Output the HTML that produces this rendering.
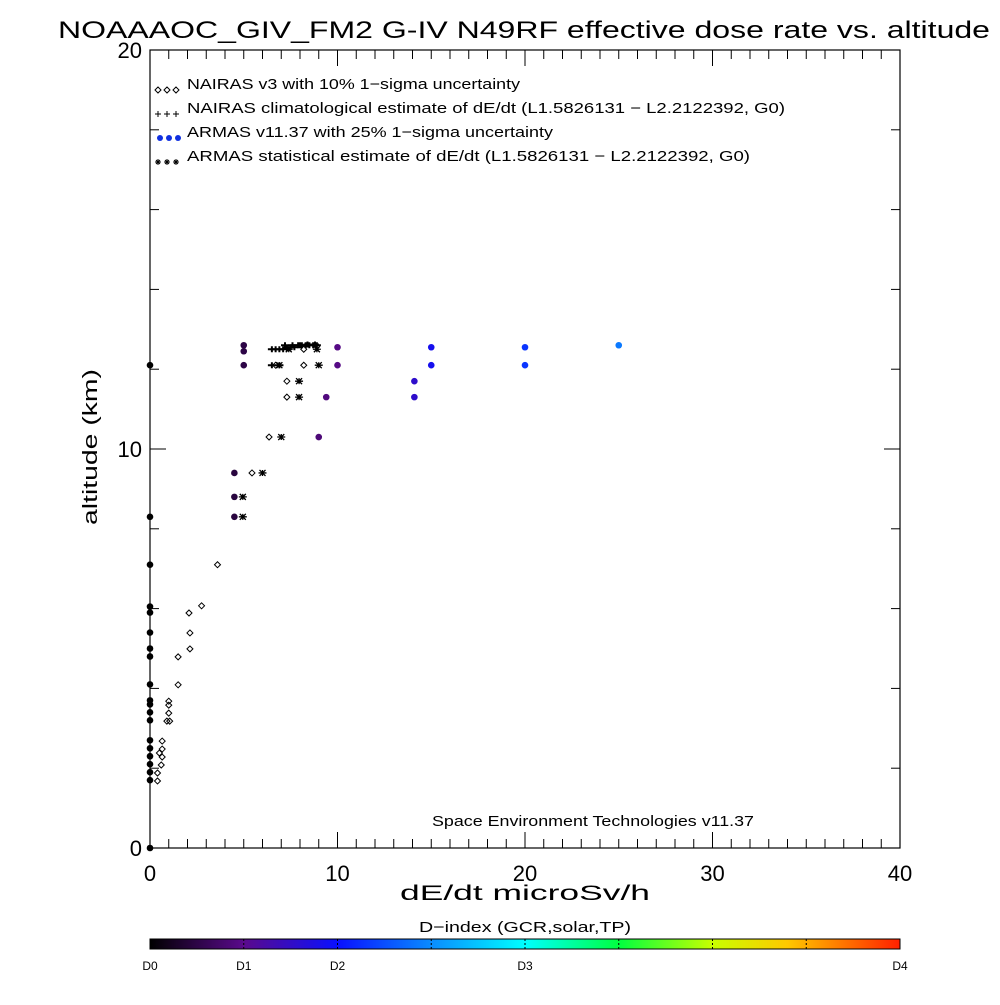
<!DOCTYPE html>
<html><head><meta charset="utf-8"><style>
body{margin:0;background:#fff}
svg text{font-family:"Liberation Sans",sans-serif;fill:#000}
</style></head><body>
<svg id="c" width="1000" height="1000" xmlns="http://www.w3.org/2000/svg">
<defs><linearGradient id="cb" x1="0" x2="1" y1="0" y2="0">
<stop offset="0" stop-color="#000"/><stop offset="0.125" stop-color="#5a0a8c"/><stop offset="0.25" stop-color="#0a10ff"/><stop offset="0.375" stop-color="#0a8cff"/><stop offset="0.5" stop-color="#00ffff"/><stop offset="0.625" stop-color="#00ff40"/><stop offset="0.75" stop-color="#c8ff00"/><stop offset="0.85" stop-color="#ffc800"/><stop offset="1" stop-color="#ff2000"/></linearGradient></defs>
<text x="58" y="38" font-size="24" textLength="932" lengthAdjust="spacingAndGlyphs">NOAAAOC_GIV_FM2 G-IV   N49RF  effective dose rate vs. altitude</text>
<rect x="150" y="50" width="750" height="798" fill="none" stroke="#000" stroke-width="1.2"/>
<g id="ticks"></g>
<g id="ticklabels"></g>
<text x="97" y="447" font-size="20" text-anchor="middle" textLength="156" lengthAdjust="spacingAndGlyphs" transform="rotate(-90 97 447)">altitude (km)</text>
<text x="400" y="900" font-size="21" textLength="250" lengthAdjust="spacingAndGlyphs">dE/dt microSv/h</text>
<text x="432" y="826" font-size="15" textLength="322" lengthAdjust="spacingAndGlyphs">Space Environment Technologies v11.37</text>
<g font-size="15">
<g><path d="M155,90l3,-3l3,3l-3,3zM164,90l3,-3l3,3l-3,3zM173,90l3,-3l3,3l-3,3z" fill="none" stroke="#000"/><text x="187" y="89" textLength="333" lengthAdjust="spacingAndGlyphs">NAIRAS v3 with 10% 1−sigma uncertainty</text></g>
<g><path d="M155,114h6M158,111v6M164,114h6M167,111v6M173,114h6M176,111v6" stroke="#000"/><text x="187" y="113" textLength="598" lengthAdjust="spacingAndGlyphs">NAIRAS climatological estimate of dE/dt (L1.5826131 − L2.2122392, G0)</text></g>
<g><circle cx="160" cy="138" r="3" fill="#1030e0"/><circle cx="169" cy="138" r="3" fill="#1030e0"/><circle cx="178" cy="138" r="3" fill="#1030e0"/><text x="187" y="137" textLength="366" lengthAdjust="spacingAndGlyphs">ARMAS v11.37 with 25% 1−sigma uncertainty</text></g>
<g><path d="M155,162h6M158,159v6M156,160l4,4M160,160l-4,4M164,162h6M167,159v6M165,160l4,4M169,160l-4,4M173,162h6M176,159v6M174,160l4,4M178,160l-4,4" stroke="#000"/><text x="187" y="161" textLength="563" lengthAdjust="spacingAndGlyphs">ARMAS statistical estimate of dE/dt (L1.5826131 − L2.2122392, G0)</text></g>
</g>
<g id="marks"></g>
<text x="419" y="932" font-size="15" textLength="212" lengthAdjust="spacingAndGlyphs">D−index (GCR,solar,TP)</text>
<rect x="150" y="939" width="750" height="10" fill="url(#cb)" stroke="#000"/>
<g id="cbl" font-size="12"></g>
</svg>
<script>
const armasX=[5,5,5,10,10,15,15,20,20,25,14.1,14.1,9.4,9.0,4.5,4.5,4.5,0,0,0,0,0,0,0,0,0,0,0,0,0,0,0,0,0,0,0,0];
const armasY=[12.6,12.45,12.1,12.55,12.1,12.55,12.1,12.55,12.1,12.6,11.7,11.3,11.3,10.3,9.4,8.8,8.3,12.1,8.3,7.1,6.05,5.9,5.4,5.0,4.8,4.1,3.7,3.6,3.4,3.2,2.7,2.5,2.3,2.1,1.9,1.7,0];
const armasD=[0.5,0.5,0.5,0.95,0.95,1.85,1.85,2.3,2.3,2.85,1.55,1.55,0.9,0.85,0.45,0.45,0.45,0,0,0,0,0,0,0,0,0,0,0,0,0,0,0,0,0,0,0,0];
const nairasX=[3.6,2.75,2.08,2.13,2.13,1.5,1.5,1.0,1.0,1.0,0.9,1.05,0.65,0.65,0.5,0.65,0.6,0.4,0.4,6.35,5.44,7.3,7.3,8.2,6.7,8.2];
const nairasY=[7.1,6.07,5.89,5.39,4.99,4.79,4.09,3.68,3.58,3.38,3.18,3.18,2.68,2.48,2.38,2.28,2.08,1.88,1.68,10.3,9.4,11.3,11.7,12.1,12.1,12.5];
const climX=[6.5,6.7,6.9,7.1,7.3,7.5,7.7,7.9,8.1,8.3,8.5,8.7,8.9,7.2,7.6,8.0,8.4,8.8,6.5,6.9];
const climY=[12.5,12.5,12.5,12.5,12.52,12.55,12.55,12.6,12.6,12.6,12.6,12.6,12.6,12.6,12.6,12.6,12.62,12.62,12.1,12.1];
const statX=[4.95,4.95,6.0,7.0,7.95,7.95,9.0,6.9,8.9,7.4];
const statY=[8.3,8.8,9.4,10.3,11.3,11.7,12.1,12.1,12.5,12.5];
const xTicks=[0,10,20,30,40];
const yTicks=[0,10,20];
const dLabels=["D0","D1","D2","D3","D4"];
const dPos=[0,1,2,4,8];
const NS="http://www.w3.org/2000/svg";
const xs=v=>150+v*18.75, ys=v=>848-v*39.9;
function mk(t,a,p){const e=document.createElementNS(NS,t);for(const k in a)e.setAttribute(k,a[k]);p.appendChild(e);return e;}
const tk=document.getElementById('ticks'),tl=document.getElementById('ticklabels'),mg=document.getElementById('marks');
for(let v=0;v<=40;v++){const x=xs(v),L=v%10==0?16:9;
 const a=mk('line',{x1:x,x2:x,y1:848,y2:848-L,stroke:'#000'},tk);
 const b=mk('line',{x1:x,x2:x,y1:50,y2:50+L,stroke:'#000'},tk);}
for(let v=0;v<=20;v+=2){const y=ys(v),L=v%10==0?16:9;
 const a=mk('line',{x1:150,x2:150+L,y1:y,y2:y,stroke:'#000'},tk);
 const b=mk('line',{x1:900,x2:900-L,y1:y,y2:y,stroke:'#000'},tk);}
xTicks.forEach(v=>{const t=mk('text',{x:xs(v),y:881,'font-size':22,'text-anchor':'middle'},tl);t.textContent=v;});
yTicks.forEach(v=>{const t=mk('text',{x:142,y:ys(v)+8,'font-size':22,'text-anchor':'end'},tl);t.textContent=v;});
const stops=[[0,[0,0,0]],[1,[90,10,140]],[2,[10,16,255]],[3,[10,140,255]],[4,[0,255,255]],[5,[0,255,64]],[6,[200,255,0]],[8,[255,32,0]]];
function col(d){for(let i=0;i<stops.length-1;i++){const[a,ca]=stops[i],[b,cb]=stops[i+1];if(d<=b){const f=(d-a)/(b-a);return 'rgb('+ca.map((c,j)=>Math.round(c+(cb[j]-c)*f)).join(',')+')';}}return 'rgb(255,32,0)';}
nairasX.forEach((v,i)=>{const x=xs(v),y=ys(nairasY[i]);const p=mk('polygon',{points:`${x-3},${y} ${x},${y-3} ${x+3},${y} ${x},${y+3}`,fill:'none',stroke:'#000','stroke-width':1},mg);});
climX.forEach((v,i)=>{const x=xs(v),y=ys(climY[i]);const p=mk('path',{d:`M${x-4},${y}H${x+4}M${x},${y-3}V${y+3}`,stroke:'#000','stroke-width':2},mg);});
statX.forEach((v,i)=>{const x=xs(v),y=ys(statY[i]);const p=mk('path',{d:`M${x-4},${y}H${x+4}M${x-3},${y-3}L${x+3},${y+3}M${x+3},${y-3}L${x-3},${y+3}M${x},${y-3}V${y+3}`,stroke:'#000','stroke-width':1.3},mg);});
armasX.forEach((v,i)=>{const c=mk('circle',{cx:xs(v),cy:ys(armasY[i]),r:3.3,fill:col(armasD[i])},mg);});
const cbl=document.getElementById('cbl');
dLabels.forEach((s,i)=>{const x=150+dPos[i]*93.75;const t=mk('text',{x:x,y:970,'text-anchor':'middle'},cbl);t.textContent=s;
 if(i>0&&i<4){const l=mk('line',{x1:x,x2:x,y1:939,y2:949,stroke:'#000','stroke-dasharray':'2,2'},cbl);}});
[3,5,6,7].forEach(k=>{const l=mk('line',{x1:150+k*93.75,x2:150+k*93.75,y1:939,y2:949,stroke:'#000','stroke-dasharray':'2,2'},cbl);});
</script>
</body></html>
